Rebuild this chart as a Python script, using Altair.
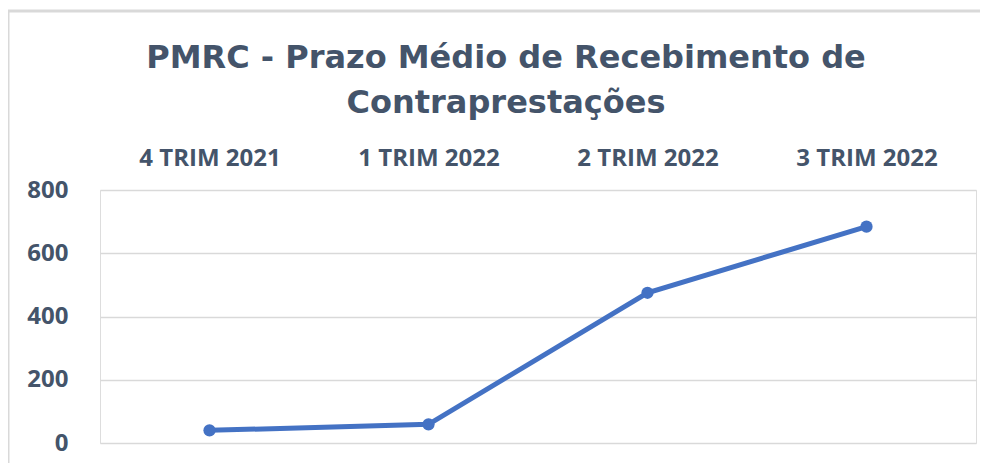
import altair as alt
import pandas as pd

periods = ["4 TRIM 2021", "1 TRIM 2022", "2 TRIM 2022", "3 TRIM 2022"]
pmrc = [40, 59, 475, 684]

TEXT = "#44546A"
FONT = "Open Sans"

df = pd.DataFrame({"periodo": periods, "valor": pmrc})

base = alt.Chart(df).encode(
    x=alt.X("periodo:N", sort=periods, title=None,
            axis=alt.Axis(orient="top", domain=False, ticks=False, grid=False,
                          labelAngle=0, labelFont=FONT, labelFontSize=24,
                          labelFontWeight="bold", labelColor=TEXT,
                          labelBaseline="alphabetic", labelPadding=25)),
    y=alt.Y("valor:Q", title=None,
            scale=alt.Scale(domain=[0, 800], nice=False),
            axis=alt.Axis(values=[0, 200, 400, 600, 800], domain=False, ticks=False,
                          grid=True, gridColor="#d9d9d9", gridWidth=1.5,
                          labelFont=FONT, labelFontSize=24, labelFontWeight="bold",
                          labelColor=TEXT, labelPadding=32)),
)

line = base.mark_line(color="#4472C4", strokeWidth=5)
points = base.mark_circle(color="#4472C4", size=150, opacity=1)

frame = alt.Chart(alt.Data(values=[{}])).mark_rect(
    fill="transparent", stroke="#d9d9d9", strokeWidth=3
).encode(
    x=alt.value(-92), x2=alt.value(900), y=alt.value(-179), y2=alt.value(300)
)

chart = alt.layer(frame, line, points).properties(
    width=876, height=253,
    title=alt.TitleParams(
        ["PMRC - Prazo Médio de Recebimento de", "Contraprestações"],
        font="DejaVu Sans", fontSize=32, fontWeight="bold", color=TEXT,
        lineHeight=45, anchor="middle", dx=-32, offset=0, dy=110,
    ),
    autosize=alt.AutoSizeParams(type="none"),
    padding={"left": 92, "top": 182, "right": 4, "bottom": 20},
).configure_view(strokeWidth=0, stroke="transparent").configure(background="white")

chart.save("out.html", embed_options={"renderer": "svg", "actions": False})
